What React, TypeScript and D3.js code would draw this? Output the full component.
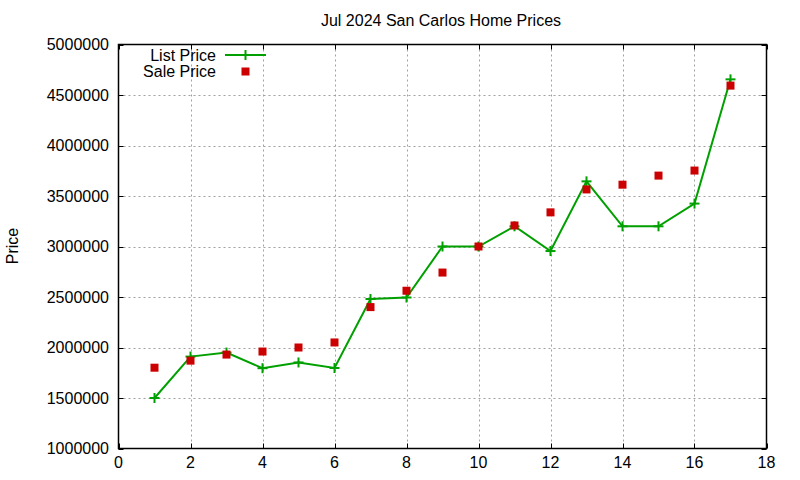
import React, { useEffect, useRef } from "react";
import * as d3 from "d3";

const months: number[] = [1, 2, 3, 4, 5, 6, 7, 8, 9, 10, 11, 12, 13, 14, 15, 16, 17];
const listPrice: number[] = [1500000, 1910000, 1950000, 1795000, 1852000, 1797000, 2480000, 2495000, 3000000, 3000000, 3200000, 2955000, 3645000, 3200000, 3200000, 3425000, 4655000];
const salePrice: number[] = [1800000, 1870000, 1930000, 1960000, 2000000, 2050000, 2400000, 2562000, 2742000, 3000000, 3208000, 3338000, 3565000, 3612000, 3702000, 3752000, 4593000];
const xTicks: number[] = [0, 2, 4, 6, 8, 10, 12, 14, 16, 18];
const yTicks: number[] = [1000000, 1500000, 2000000, 2500000, 3000000, 3500000, 4000000, 4500000, 5000000];

const W = 800;
const H = 480;
const M = { left: 118.5, right: 766.5, top: 44.5, bottom: 448.5 };
const GREEN = "#00a000";
const RED = "#cc0000";
const FONT = "'Liberation Sans', Arial, sans-serif";
const FS = 16;

export default function App() {
  const ref = useRef<SVGSVGElement | null>(null);

  useEffect(() => {
    const svg = d3.select(ref.current);
    svg.selectAll("*").remove();
    const x = d3.scaleLinear().domain([0, 18]).range([M.left, M.right]);
    const y = d3.scaleLinear().domain([1000000, 5000000]).range([M.bottom, M.top]);

    svg.append("rect").attr("width", W).attr("height", H).attr("fill", "#fff");

    // grid
    const grid = svg.append("g").attr("stroke", "#a0a0a0").attr("stroke-width", 1).attr("stroke-dasharray", "2,3");
    xTicks.slice(1, -1).forEach((t) => {
      grid.append("line").attr("x1", Math.round(x(t)) + 0.5).attr("x2", Math.round(x(t)) + 0.5).attr("y1", M.top).attr("y2", M.bottom);
    });
    yTicks.slice(1, -1).forEach((t) => {
      grid.append("line").attr("y1", Math.round(y(t)) + 0.5).attr("y2", Math.round(y(t)) + 0.5).attr("x1", M.left).attr("x2", M.right);
    });

    // ticks (inward, mirrored)
    const tk = svg.append("g").attr("stroke", "#000").attr("stroke-width", 1);
    const TL = 5;
    xTicks.forEach((t) => {
      const px = Math.round(x(t)) + 0.5;
      tk.append("line").attr("x1", px).attr("x2", px).attr("y1", M.bottom).attr("y2", M.bottom - TL);
      tk.append("line").attr("x1", px).attr("x2", px).attr("y1", M.top).attr("y2", M.top + TL);
    });
    yTicks.forEach((t) => {
      const py = Math.round(y(t)) + 0.5;
      tk.append("line").attr("y1", py).attr("y2", py).attr("x1", M.left).attr("x2", M.left + TL);
      tk.append("line").attr("y1", py).attr("y2", py).attr("x1", M.right).attr("x2", M.right - TL);
    });

    // frame
    svg.append("rect").attr("x", M.left).attr("y", M.top).attr("width", M.right - M.left).attr("height", M.bottom - M.top)
      .attr("fill", "none").attr("stroke", "#000").attr("stroke-width", 1.5);

    // tick labels
    const lab = svg.append("g").attr("font-family", FONT).attr("font-size", FS).attr("fill", "#000");
    xTicks.forEach((t) => {
      lab.append("text").attr("x", x(t)).attr("y", 468).attr("text-anchor", "middle").text(String(t));
    });
    yTicks.forEach((t) => {
      lab.append("text").attr("x", 109).attr("y", y(t)).attr("dy", "0.35em").attr("text-anchor", "end").text(String(t));
    });

    // title and axis label
    svg.append("text").attr("x", 441).attr("y", 26).attr("text-anchor", "middle").attr("font-family", FONT).attr("font-size", FS).text("Jul 2024 San Carlos Home Prices");
    svg.append("text").attr("transform", "translate(18,246) rotate(-90)").attr("text-anchor", "middle").attr("font-family", FONT).attr("font-size", FS).text("Price");

    // list price line
    const line = d3.line<number>().x((_, i) => x(months[i])).y((d) => y(d));
    svg.append("path").datum(listPrice).attr("d", line).attr("fill", "none").attr("stroke", GREEN).attr("stroke-width", 2);
    const cs = 5;
    const crosses = svg.append("g").attr("stroke", GREEN).attr("stroke-width", 2);
    listPrice.forEach((v, i) => {
      const cx = x(months[i]);
      const cy = y(v);
      crosses.append("line").attr("x1", cx - cs).attr("x2", cx + cs).attr("y1", cy).attr("y2", cy);
      crosses.append("line").attr("x1", cx).attr("x2", cx).attr("y1", cy - cs).attr("y2", cy + cs);
    });

    // sale price squares
    const sq = 8;
    svg.append("g").selectAll("rect").data(salePrice).join("rect")
      .attr("x", (_, i) => x(months[i]) - sq / 2).attr("y", (d) => y(d) - sq / 2)
      .attr("width", sq).attr("height", sq).attr("fill", RED);

    // legend
    const lg = svg.append("g").attr("font-family", FONT).attr("font-size", FS);
    lg.append("text").attr("x", 216).attr("y", 55).attr("dy", "0.35em").attr("text-anchor", "end").text("List Price");
    lg.append("line").attr("x1", 225).attr("x2", 266).attr("y1", 55).attr("y2", 55).attr("stroke", GREEN).attr("stroke-width", 2);
    lg.append("line").attr("x1", 245.5 - cs).attr("x2", 245.5 + cs).attr("y1", 55).attr("y2", 55).attr("stroke", GREEN).attr("stroke-width", 2);
    lg.append("line").attr("x1", 245.5).attr("x2", 245.5).attr("y1", 55 - cs).attr("y2", 55 + cs).attr("stroke", GREEN).attr("stroke-width", 2);
    lg.append("text").attr("x", 216).attr("y", 71).attr("dy", "0.35em").attr("text-anchor", "end").text("Sale Price");
    lg.append("rect").attr("x", 245.5 - sq / 2).attr("y", 71.5 - sq / 2).attr("width", sq).attr("height", sq).attr("fill", RED);
  }, []);

  return (
    <svg ref={ref} width={W} height={H} style={{ position: "absolute", left: 0, top: 0, display: "block" }} />
  );
}
